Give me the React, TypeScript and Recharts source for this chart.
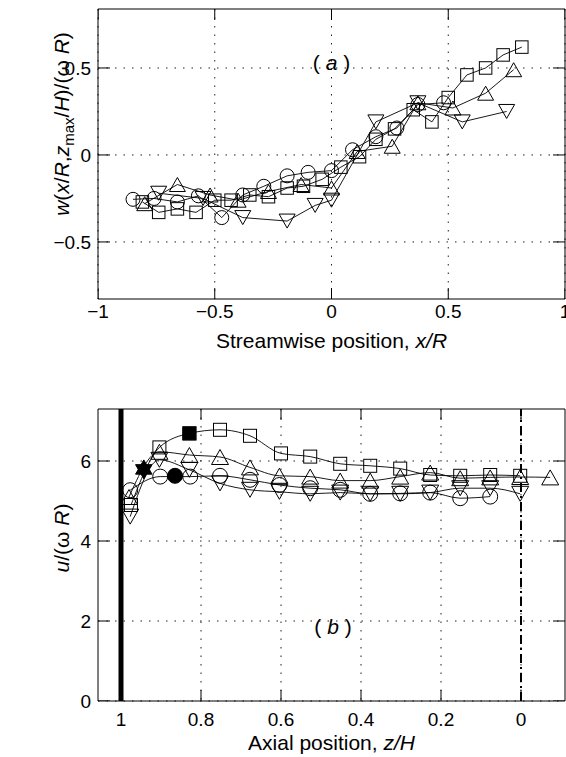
import React from 'react';
import { ComposedChart, Scatter, XAxis, YAxis, CartesianGrid, ReferenceLine, ReferenceDot, ReferenceArea, Label } from 'recharts';

// ---------- Panel (a) ----------
const aXTicks = [-1, -0.5, 0, 0.5, 1];
const aYTicks = [-0.5, 0, 0.5];
const aXDomain = [-1, 1];
const aYDomain = [-0.828, 0.839];

const aCircleX = [-0.85, -0.76, -0.66, -0.57, -0.47, -0.38, -0.29, -0.19, -0.1, 0.0, 0.09, 0.19, 0.28, 0.37, 0.48];
const aCircleY = [-0.255, -0.25, -0.27, -0.235, -0.36, -0.23, -0.18, -0.12, -0.1, -0.09, 0.03, 0.105, 0.155, 0.29, 0.3];

const aSquareX = [-0.81, -0.74, -0.66, -0.58, -0.5, -0.43, -0.35, -0.27, -0.19, -0.12, -0.04, 0.04, 0.12, 0.19, 0.27, 0.35, 0.43, 0.5, 0.58, 0.66, 0.735, 0.815];
const aSquareY = [-0.27, -0.33, -0.31, -0.33, -0.26, -0.26, -0.23, -0.24, -0.19, -0.18, -0.14, -0.07, -0.01, 0.09, 0.15, 0.26, 0.19, 0.33, 0.46, 0.5, 0.575, 0.62];

const aUpX = [-0.8, -0.66, -0.52, -0.4, -0.27, -0.13, 0.0, 0.11, 0.26, 0.37, 0.52, 0.66, 0.78];
const aUpY = [-0.28, -0.17, -0.23, -0.26, -0.21, -0.17, -0.19, 0.02, 0.05, 0.3, 0.27, 0.355, 0.49];

const aDownX = [-0.74, -0.55, -0.38, -0.19, -0.07, 0.0, 0.19, 0.37, 0.56, 0.75];
const aDownY = [-0.22, -0.25, -0.36, -0.38, -0.29, -0.26, 0.19, 0.3, 0.19, 0.25];

// ---------- Panel (b) ----------
const bXTicks = [1, 0.8, 0.6, 0.4, 0.2, 0];
const bYTicks = [0, 2, 4, 6];
const bXDomain = [-0.11, 1.0575];
const bYDomain = [0, 7.3];

const bSquareZ = [0.975, 0.904, 0.829, 0.7525, 0.6775, 0.6, 0.527, 0.452, 0.377, 0.302, 0.227, 0.152, 0.077, 0.002];
const bSquareU = [4.9, 6.34, 6.69, 6.78, 6.63, 6.19, 6.11, 5.93, 5.88, 5.81, 5.65, 5.63, 5.65, 5.63];

const bUpZ = [0.98, 0.904, 0.829, 0.7525, 0.6775, 0.604, 0.527, 0.452, 0.377, 0.302, 0.227, 0.152, 0.077, 0.002, -0.073];
const bUpU = [5.1, 6.23, 6.15, 6.1, 5.84, 5.63, 5.61, 5.51, 5.51, 5.61, 5.71, 5.57, 5.59, 5.6, 5.59];

const bCircleZ = [0.977, 0.902, 0.827, 0.7525, 0.6775, 0.604, 0.527, 0.452, 0.377, 0.302, 0.227, 0.152, 0.077];
const bCircleU = [5.27, 5.61, 5.61, 5.63, 5.53, 5.4, 5.32, 5.28, 5.18, 5.19, 5.21, 5.07, 5.11];

const bDownZ = [0.977, 0.904, 0.829, 0.7525, 0.6775, 0.604, 0.527, 0.452, 0.377, 0.302, 0.227, 0.152, 0.077, 0.002];
const bDownU = [4.61, 6.03, 5.78, 5.44, 5.28, 5.23, 5.18, 5.21, 5.18, 5.18, 5.21, 5.32, 5.32, 5.18];

// peak markers (filled)
const bPeakSquare = { z: 0.829, u: 6.69 };
const bPeakStar = { z: 0.943, u: 5.79 };
const bPeakCircle = { z: 0.865, u: 5.63 };

const zip = (xs: number[], ys: number[]) => xs.map((x, i) => ({ x, y: ys[i] }));

const FONT = '"Liberation Sans", Arial, Helvetica, sans-serif';
const fmt = (v: number) => (v < 0 ? '\u2212' + String(Math.abs(v)) : String(v));

type Dim = { d: number; tw: number; th: number };

const sym = (kind: string, dim: Dim, filled = false) => (p: any) => {
  const cx = p.cx;
  const cy = p.cy;
  if (typeof cx !== 'number' || typeof cy !== 'number') return <g />;
  const common = { fill: filled ? '#000' : 'none', stroke: '#000', strokeWidth: 1 };
  const h = dim.d / 2;
  if (kind === 'circle') return <circle cx={cx} cy={cy} r={h} {...common} />;
  if (kind === 'square') return <rect x={cx - h} y={cy - h} width={dim.d} height={dim.d} {...common} />;
  if (kind === 'up')
    return (
      <path
        d={`M${cx},${cy - dim.th / 2} L${cx + dim.tw / 2},${cy + dim.th / 2} L${cx - dim.tw / 2},${cy + dim.th / 2} Z`}
        {...common}
      />
    );
  if (kind === 'down')
    return (
      <path
        d={`M${cx},${cy + dim.th / 2} L${cx + dim.tw / 2},${cy - dim.th / 2} L${cx - dim.tw / 2},${cy - dim.th / 2} Z`}
        {...common}
      />
    );
  if (kind === 'star') {
    const R = dim.d / 2;
    const pt = (a: number) => `${cx + R * Math.cos((a * Math.PI) / 180)},${cy + R * Math.sin((a * Math.PI) / 180)}`;
    return (
      <g fill="#000" stroke="#000">
        <path d={`M${pt(-90)} L${pt(30)} L${pt(150)} Z`} />
        <path d={`M${pt(90)} L${pt(210)} L${pt(330)} Z`} />
      </g>
    );
  }
  return <g />;
};

// inward tick-mark glyph placed at an edge point
const tickMark = (dx: number, dy: number) => (p: any) => {
  const cx = p.cx;
  const cy = p.cy;
  if (typeof cx !== 'number' || typeof cy !== 'number') return <g />;
  return <line x1={cx} y1={cy} x2={cx + dx} y2={cy + dy} stroke="#000" strokeWidth={1} />;
};

const tickStyle = { fontSize: 19, fill: '#000', fontFamily: FONT };

const PanelLabel = (letter: string) => (props: any) => {
  const vb = props.viewBox || {};
  const x = vb.x + (vb.width || 0) / 2;
  const y = vb.y + (vb.height || 0) / 2;
  return (
    <text x={x} y={y} dy={7} textAnchor="middle" fontSize={21} fontFamily={FONT} fill="#000">
      <tspan>( </tspan>
      <tspan fontStyle="italic">{letter}</tspan>
      <tspan> )</tspan>
    </text>
  );
};

const gridDash = '1.5 7';

const aDimS: Dim = { d: 12.5, tw: 16, th: 14 };
const aDimC: Dim = { d: 14, tw: 16, th: 14 };
const bDimS: Dim = { d: 13, tw: 17, th: 15 };
const bDimC: Dim = { d: 15, tw: 17, th: 15 };

const lineStyle = { stroke: '#000', strokeWidth: 0.9 };

function edgeTickSeries(key: string, xTicks: number[], yTicks: number[], leftX: number, rightX: number, bottomY: number, topY: number) {
  return [
    <Scatter key={`${key}b`} data={xTicks.map((t) => ({ x: t, y: bottomY }))} shape={tickMark(0, -11)} isAnimationActive={false} />,
    <Scatter key={`${key}t`} data={xTicks.map((t) => ({ x: t, y: topY }))} shape={tickMark(0, 11)} isAnimationActive={false} />,
    <Scatter key={`${key}l`} data={yTicks.map((t) => ({ x: leftX, y: t }))} shape={tickMark(12, 0)} isAnimationActive={false} />,
    <Scatter key={`${key}r`} data={yTicks.map((t) => ({ x: rightX, y: t }))} shape={tickMark(-12, 0)} isAnimationActive={false} />,
  ];
}

function ChartA() {
  return (
    <ComposedChart width={566} height={360} margin={{ top: 9, right: 1, bottom: 0, left: 0 }}>
      <CartesianGrid stroke="#222" strokeDasharray={gridDash} strokeWidth={1} horizontalValues={aYTicks} verticalValues={aXTicks} />
      <XAxis
        dataKey="x"
        type="number"
        domain={aXDomain}
        ticks={aXTicks}
        allowDataOverflow
        height={61}
        tickLine={false}
        axisLine={false}
        tickSize={0}
        tickMargin={6}
        tick={tickStyle}
        tickFormatter={fmt}
        interval={0}
      >
        <Label
          content={(p: any) => {
            const vb = p.viewBox;
            return (
              <text x={vb.x + vb.width / 2} y={vb.y + 49} textAnchor="middle" fontSize={21} fontFamily={FONT} fill="#000">
                <tspan>Streamwise position, </tspan>
                <tspan fontStyle="italic">x/R</tspan>
              </text>
            );
          }}
        />
      </XAxis>
      <YAxis
        dataKey="y"
        type="number"
        domain={aYDomain}
        ticks={aYTicks}
        allowDataOverflow
        width={98}
        tickLine={false}
        axisLine={false}
        tickSize={0}
        tickMargin={7}
        tick={tickStyle}
        tickFormatter={fmt}
        interval={0}
      >
        <Label
          content={(p: any) => {
            const vb = p.viewBox;
            const cx = 69;
            const cy = vb.y + 115;
            return (
              <text
                x={cx}
                y={cy}
                transform={`rotate(-90, ${cx}, ${cy})`}
                textAnchor="middle"
                fontSize={21}
                fontFamily={FONT}
                fill="#000"
              >
                <tspan fontStyle="italic">w</tspan>
                <tspan>(</tspan>
                <tspan fontStyle="italic">x</tspan>
                <tspan>/</tspan>
                <tspan fontStyle="italic">R</tspan>
                <tspan>,</tspan>
                <tspan fontStyle="italic">z</tspan>
                <tspan dy={5} fontSize={15}>max</tspan>
                <tspan dy={-5}>/</tspan>
                <tspan fontStyle="italic">H</tspan>
                <tspan>)/(ω </tspan>
                <tspan fontStyle="italic">R</tspan>
                <tspan>)</tspan>
              </text>
            );
          }}
        />
      </YAxis>

      <ReferenceArea x1={aXDomain[0]} x2={aXDomain[1]} y1={aYDomain[0]} y2={aYDomain[1]} fill="none" fillOpacity={0} stroke="#000" strokeWidth={1} ifOverflow="visible" />
      {edgeTickSeries('a', aXTicks, aYTicks, aXDomain[0], aXDomain[1], aYDomain[0], aYDomain[1])}

      <Scatter data={zip(aCircleX, aCircleY)} fill="none" stroke="#000" line={lineStyle} shape={sym('circle', aDimC)} isAnimationActive={false} />
      <Scatter data={zip(aSquareX, aSquareY)} fill="none" stroke="#000" line={lineStyle} shape={sym('square', aDimS)} isAnimationActive={false} />
      <Scatter data={zip(aUpX, aUpY)} fill="none" stroke="#000" line={lineStyle} shape={sym('up', aDimC)} isAnimationActive={false} />
      <Scatter data={zip(aDownX, aDownY)} fill="none" stroke="#000" line={lineStyle} shape={sym('down', aDimC)} isAnimationActive={false} />

      <ReferenceDot x={0} y={0.53} r={0} fill="none" stroke="none" label={PanelLabel('a')} />
    </ComposedChart>
  );
}

function ChartB() {
  return (
    <ComposedChart width={566} height={397} margin={{ top: 49, right: 1, bottom: 0, left: 0 }}>
      <CartesianGrid stroke="#222" strokeDasharray={gridDash} strokeWidth={1} horizontalValues={bYTicks} verticalValues={bXTicks} />
      <XAxis
        dataKey="x"
        type="number"
        domain={bXDomain}
        ticks={bXTicks}
        reversed
        allowDataOverflow
        height={56}
        tickLine={false}
        axisLine={false}
        tickSize={0}
        tickMargin={12}
        tick={tickStyle}
        tickFormatter={fmt}
        interval={0}
      >
        <Label
          content={(p: any) => {
            const vb = p.viewBox;
            return (
              <text x={vb.x + vb.width / 2} y={vb.y + 49} textAnchor="middle" fontSize={21} fontFamily={FONT} fill="#000">
                <tspan>Axial position, </tspan>
                <tspan fontStyle="italic">z/H</tspan>
              </text>
            );
          }}
        />
      </XAxis>
      <YAxis
        dataKey="y"
        type="number"
        domain={bYDomain}
        ticks={bYTicks}
        allowDataOverflow
        width={98}
        tickLine={false}
        axisLine={false}
        tickSize={0}
        tickMargin={7}
        tick={tickStyle}
        tickFormatter={fmt}
        interval={0}
      >
        <Label
          content={(p: any) => {
            const vb = p.viewBox;
            const cx = 69;
            const cy = vb.y + 129;
            return (
              <text
                x={cx}
                y={cy}
                transform={`rotate(-90, ${cx}, ${cy})`}
                textAnchor="middle"
                fontSize={21}
                fontFamily={FONT}
                fill="#000"
              >
                <tspan fontStyle="italic">u</tspan>
                <tspan>/(ω </tspan>
                <tspan fontStyle="italic">R</tspan>
                <tspan>)</tspan>
              </text>
            );
          }}
        />
      </YAxis>

      <ReferenceArea x1={bXDomain[0]} x2={bXDomain[1]} y1={bYDomain[0]} y2={bYDomain[1]} fill="none" fillOpacity={0} stroke="#000" strokeWidth={1} ifOverflow="visible" />
      {edgeTickSeries('b', bXTicks, bYTicks, bXDomain[1], bXDomain[0], bYDomain[0], bYDomain[1])}

      <ReferenceLine x={1} stroke="#000" strokeWidth={5} />
      <ReferenceLine x={0} stroke="#000" strokeWidth={2} strokeDasharray="9 4 2 4" />

      <Scatter data={zip(bSquareZ, bSquareU)} fill="none" stroke="#000" line={lineStyle} lineJointType="monotoneX" shape={sym('square', bDimS)} isAnimationActive={false} />
      <Scatter data={zip(bUpZ, bUpU)} fill="none" stroke="#000" line={lineStyle} lineJointType="monotoneX" shape={sym('up', bDimC)} isAnimationActive={false} />
      <Scatter data={zip(bCircleZ, bCircleU)} fill="none" stroke="#000" line={lineStyle} lineJointType="monotoneX" shape={sym('circle', bDimC)} isAnimationActive={false} />
      <Scatter data={zip(bDownZ, bDownU)} fill="none" stroke="#000" line={lineStyle} lineJointType="monotoneX" shape={sym('down', bDimC)} isAnimationActive={false} />

      <Scatter data={[{ x: bPeakSquare.z, y: bPeakSquare.u }]} shape={sym('square', bDimS, true)} isAnimationActive={false} />
      <Scatter data={[{ x: bPeakCircle.z, y: bPeakCircle.u }]} shape={sym('circle', bDimC, true)} isAnimationActive={false} />
      <Scatter data={[{ x: bPeakStar.z, y: bPeakStar.u }]} shape={sym('star', { d: 19, tw: 0, th: 0 }, true)} isAnimationActive={false} />

      <ReferenceDot x={0.47} y={1.85} r={0} fill="none" stroke="none" label={PanelLabel('b')} />
    </ComposedChart>
  );
}

export default function App() {
  return (
    <div style={{ position: 'absolute', left: 0, top: 0, width: 566, height: 757, background: '#fff', overflow: 'hidden', fontFamily: FONT }}>
      <div style={{ position: 'absolute', left: 0, top: 0 }}>
        <ChartA />
      </div>
      <div style={{ position: 'absolute', left: 0, top: 360 }}>
        <ChartB />
      </div>
    </div>
  );
}
